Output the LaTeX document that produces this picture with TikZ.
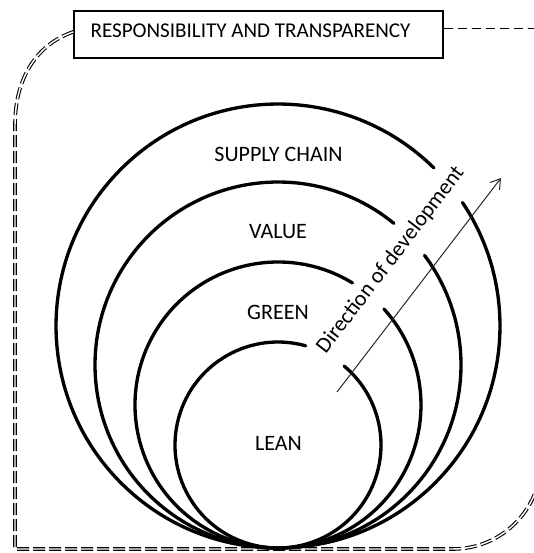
\documentclass[tikz,border=0pt]{standalone}
\usepackage{fontspec}
\setmainfont{Carlito}
\usetikzlibrary{arrows.meta}

\tikzset{every picture/.style={line width=0.75pt}}

\begin{document}
\begin{tikzpicture}[x=0.75pt,y=0.75pt,yscale=-1,xscale=1,
  ring/.style={line width=2.5pt,line cap=round},
  frame/.style={double,line width=0.8pt,double distance=1.1pt,dash pattern=on 9pt off 3pt},
  circlelabel/.style={inner sep=0.75pt,font=\fontsize{16.5}{18}\selectfont}]
\useasboundingbox (0,0) rectangle (533,553);

% Text Node
\node [draw,line width=1pt,minimum width=276.75pt,minimum height=35.25pt,text depth=6pt,font=\fontsize{15.8}{18}\selectfont] (resp) at (258.5,34.5) {RESPONSIBILITY AND TRANSPARENCY\hspace*{12pt}};

%Dashed frame
\draw [frame] ([yshift=-2pt]resp.west) .. controls (35,45) and (15,80) .. (15,125) -- (15,549) -- (453,549) arc[start angle=90,end angle=0,radius=88] ;
\draw [dash pattern=on 7pt off 3.5pt,line width=1pt] ([yshift=-4.5pt]resp.east) -- (540,28.5) ;

%Arc [LEAN]
\draw [ring] (278,445) ++(-74.4:103) arc[start angle=-74.4,end angle=-410,radius=103] ;
%Arc [GREEN]
\draw [ring] (278,405) ++(-58.6:143) arc[start angle=-58.6,end angle=-402.2,radius=143] ;
%Arc [VALUE]
\draw [ring] (278,365) ++(-50.7:183) arc[start angle=-50.7,end angle=-396.8,radius=183] ;
%Arc [SUPPLY CHAIN]
\draw [ring] (278,326) ++(-45.4:222) arc[start angle=-45.4,end angle=-393.8,radius=222] ;

%Straight Lines [direction arrow]
\coordinate (devtail) at (337,392) ;
\coordinate (devhead) at (501,178) ;
\draw [color={rgb, 255:red, 40; green, 40; blue, 40 },-{Straight Barb[length=7pt,width=9pt]}] (devtail) -- (devhead) ;

% Text Node
\node [circlelabel] (supply) at (278.5,154) {SUPPLY CHAIN};
% Text Node
\node [circlelabel] (value) at (278,232) {VALUE};
% Text Node
\node [circlelabel] (green) at (278,312) {GREEN};
% Text Node
\node [circlelabel] (lean) at (278.5,443) {LEAN};
% Text Node
\node [anchor=base west,inner sep=0pt,rotate=52.6,font=\fontsize{16.5}{18}\selectfont] (direction) at (325.6,354.9) {Direction of development};

\end{tikzpicture}
\end{document}
